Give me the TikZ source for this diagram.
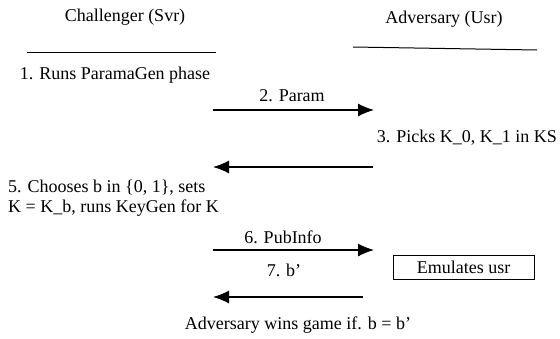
\documentclass[tikz,border=0pt]{standalone}
\usepackage{fontspec}
\setmainfont{Liberation Serif}
\usetikzlibrary{arrows.meta}

\begin{document}
\begin{tikzpicture}[x=1pt,y=-1pt]
            \tikzstyle{every node}+=[inner sep=0pt, font=\rmfamily\fontsize{18}{20}\selectfont]
            \tikzstyle{msg}=[draw=black, line width=1.2pt, -{Latex[length=16pt,width=13pt]}]
            \tikzstyle{rule}=[draw=black, line width=1pt]
            \useasboundingbox (0,0) rectangle (560,338);
            % parties
            \node (svr) at (125,17) {Challenger (Svr)};
            \node (usr) at (444,19) {Adversary (Usr)};
            \coordinate (svrL) at (27,52);
            \coordinate (svrR) at (216,52);
            \coordinate (usrL) at (353,47);
            \coordinate (usrR) at (537,50);
            \draw [rule] (svrL) -- (svrR);
            \draw [rule] (usrL) -- (usrR);
            % steps
            \node (s1) at (115,75) {1. Runs ParamaGen phase};
            \node (s2) at (292,96) {2. Param};
            \coordinate (p1) at (213,110);
            \coordinate (p2) at (374,110);
            \draw [msg] (p1) -- (p2);
            \node [anchor=east] (s3) at (557,138) {3. Picks K\_0, K\_1 in KS};
            \coordinate (k1) at (373,167);
            \coordinate (k2) at (213,167);
            \draw [msg] (k1) -- (k2);
            \node [anchor=west, align=left] (s5) at (8,198) {5. Chooses b in \{0, 1\}, sets\\K = K\_b, runs KeyGen for K};
            \node (s6) at (283,237) {6. PubInfo};
            \coordinate (i1) at (213,250);
            \coordinate (i2) at (374,250);
            \draw [msg] (i1) -- (i2);
            \node (s7) at (284,270) {7. b’};
            \node [draw, line width=1pt, minimum width=141pt, minimum height=24pt] (emu) at (463.5,267) {Emulates usr};
            \coordinate (b1) at (363,297);
            \coordinate (b2) at (213,297);
            \draw [msg] (b1) -- (b2);
            \node (win) at (298,325) {Adversary wins game if. b = b’};
        \end{tikzpicture}
\end{document}
